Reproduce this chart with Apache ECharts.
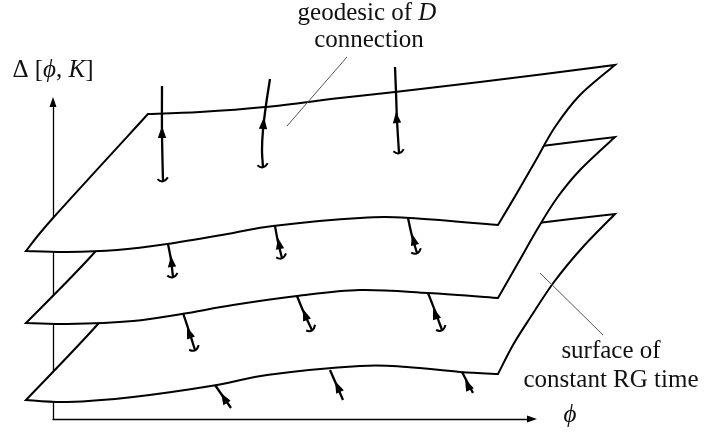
<!DOCTYPE html>
<html>
<head>
<meta charset="utf-8">
<script src="https://cdn.jsdelivr.net/npm/echarts@6/dist/echarts.min.js"></script>
<style>
  html, body { margin: 0; padding: 0; background: #fff; }
  #chart { width: 705px; height: 437px; }
</style>
</head>
<body>
<div id="chart"></div>
<script>
  // everything is in picture units: x to the right, y downwards
  // each sheet = [back edge, right edge, front edge, left edge]
  const lowSheet = [
    [[148, 263], [265, 256], [340, 247], [395, 241], [480, 231], [538, 223], [615, 214]],
    [[615, 214], [582, 248], [554, 282], [530, 318], [513, 345], [498, 374]],
    [[498, 374], [460, 372], [407, 367], [360, 366], [267, 375], [217, 385], [133, 397], [67, 402], [26, 400]],
    [[26, 400], [98, 324], [148, 263]],
  ];
  const midSheet = [
    [[148, 186], [265, 179], [340, 170], [395, 164], [480, 154], [542, 146], [615, 137]],
    [[615, 137], [580, 170], [557, 198], [538, 228], [518, 263], [498, 298]],
    [[498, 298], [428, 293], [360, 290], [297, 296], [233, 305], [182, 314], [133, 321], [67, 324], [26, 323]],
    [[26, 323], [94, 253], [148, 186]],
  ];
  const topSheet = [
    [[148, 114], [200, 112], [265, 107], [340, 98], [395, 92], [480, 82], [615, 65]],
    [[615, 65], [580, 95], [555, 127], [536, 160], [517, 193], [498, 225]],
    [[498, 225], [410, 218], [360, 218], [273, 226], [233, 233], [167, 244], [117, 250], [67, 252], [26, 251]],
    [[26, 251], [53, 218], [148, 114]],
  ];
  const sheets = [lowSheet, midSheet, topSheet];

  // little geodesic marks: stem, arrow tip, arrow base, foot (1) or not (0)
  const stems = [
    [[162, 86], [162, 134], [163, 181]],
    [[270, 79], [266, 105], [263, 130], [262, 150], [263, 167]],
    [[395, 67], [396, 92], [397, 120], [399, 153]],
    [[168, 244], [171, 260], [173, 277]],
    [[275, 226], [278, 242], [282, 258]],
    [[408, 218], [412, 236], [417, 253]],
    [[183, 313], [189, 331], [195, 350]],
    [[297, 296], [304, 313], [312, 330]],
    [[428, 293], [435, 311], [442, 330]],
    [[215, 385], [231, 408]],
    [[330, 370], [343, 400]],
    [[462, 372], [473, 393]],
  ];
  const tips = [
    [162, 126], [264, 117], [396, 112],
    [171, 256], [278, 238], [412, 234],
    [187, 327], [303, 309], [433, 307],
    [221, 393], [335, 381], [465, 379],
  ];
  const bases = [
    [162, 138], [263, 129], [397, 123],
    [172, 267], [280, 249], [415, 245],
    [191, 338], [307, 320], [437, 319],
    [227, 403], [340, 392], [470, 390],
  ];
  const feet = [1, 1, 1, 1, 1, 1, 1, 1, 1, 0, 0, 0];

  const leaders = [
    [[347, 57], [287, 126]],
    [[540, 273], [603, 335]],
  ];

  const serif = "'Liberation Serif', 'DejaVu Serif', serif";

  // catmull-rom through the points, as svg path commands
  function curveThrough(pts) {
    let d = "";
    for (let i = 0; i < pts.length - 1; i++) {
      const p0 = pts[i - 1] || pts[i];
      const p1 = pts[i];
      const p2 = pts[i + 1];
      const p3 = pts[i + 2] || p2;
      const c1 = [p1[0] + (p2[0] - p0[0]) / 6, p1[1] + (p2[1] - p0[1]) / 6];
      const c2 = [p2[0] - (p3[0] - p1[0]) / 6, p2[1] - (p3[1] - p1[1]) / 6];
      d += ` C${c1[0]} ${c1[1]} ${c2[0]} ${c2[1]} ${p2[0]} ${p2[1]}`;
    }
    return d;
  }

  const renderSheet = (params, api) => {
    const sheet = sheets[params.dataIndex];
    let d = "";
    sheet.forEach((edge, k) => {
      const pts = edge.map((p) => api.coord(p));
      if (k === 0) d += `M${pts[0][0]} ${pts[0][1]}`;
      d += curveThrough(pts);
    });
    d += " Z";
    return {
      type: "path",
      z2: params.dataIndex,
      shape: { pathData: d },
      style: { fill: "#fff", stroke: "#000", lineWidth: 2, lineJoin: "miter" },
    };
  };

  const renderMark = (params, api) => {
    const i = params.dataIndex;
    const pts = stems[i].map((p) => api.coord(p));
    const tip = api.coord(tips[i]);
    const base = api.coord(bases[i]);
    const children = [
      {
        type: "path",
        shape: { pathData: `M${pts[0][0]} ${pts[0][1]}` + curveThrough(pts) },
        style: { fill: "none", stroke: "#000", lineWidth: 2.3 },
      },
    ];
    // arrow head
    let ux = tip[0] - base[0];
    let uy = tip[1] - base[1];
    const len = Math.hypot(ux, uy);
    ux /= len;
    uy /= len;
    const w = 4.2;
    children.push({
      type: "polygon",
      shape: {
        points: [
          [tip[0], tip[1]],
          [base[0] - uy * w, base[1] + ux * w],
          [base[0] + uy * w, base[1] - ux * w],
        ],
      },
      style: { fill: "#000" },
    });
    // small foot at the lower end
    if (feet[i]) {
      const end = pts[pts.length - 1];
      const prev = pts[pts.length - 2];
      let dx = end[0] - prev[0];
      let dy = end[1] - prev[1];
      const l = Math.hypot(dx, dy);
      dx /= l;
      dy /= l;
      const nx = dy;
      const ny = -dx;
      const left = [end[0] - nx * 5.5 - dx * 2, end[1] - ny * 5.5 - dy * 2];
      const right = [end[0] + nx * 5 - dx * 3.5, end[1] + ny * 5 - dy * 3.5];
      const ctrl = [end[0] + dx * 3.5, end[1] + dy * 3.5];
      children.push({
        type: "path",
        shape: { pathData: `M${left[0]} ${left[1]} Q${ctrl[0]} ${ctrl[1]} ${right[0]} ${right[1]}` },
        style: { fill: "none", stroke: "#000", lineWidth: 2 },
      });
    }
    return { type: "group", children };
  };

  const renderLeader = (params, api) => {
    const [a, b] = leaders[params.dataIndex].map((p) => api.coord(p));
    return {
      type: "line",
      shape: { x1: a[0], y1: a[1], x2: b[0], y2: b[1] },
      style: { stroke: "#555", lineWidth: 1 },
    };
  };

  const label = (text, x, y, rich) => ({
    type: "text",
    x,
    y,
    style: {
      text,
      font: `25px ${serif}`,
      fill: "#111",
      textAlign: "center",
      textVerticalAlign: "middle",
      rich,
    },
  });
  const it = { fontSize: 25, fontFamily: serif, fontStyle: "italic", fill: "#111" };

  const myChart = echarts.init(document.getElementById("chart"));
  const option = {
    animation: false,
    grid: { left: 53, right: 173, top: 102, bottom: 18, outerBoundsMode: "none" },
    xAxis: {
      type: "value",
      min: 53,
      max: 532,
      axisLine: {
        show: true,
        onZero: false,
        symbol: ["none", "triangle"],
        symbolSize: [7, 10],
        lineStyle: { color: "#000", width: 1.3 },
      },
      axisTick: { show: false },
      axisLabel: { show: false },
      splitLine: { show: false },
    },
    yAxis: {
      type: "value",
      min: 102,
      max: 419,
      inverse: true,
      axisLine: {
        show: true,
        onZero: false,
        symbol: ["none", "triangle"],
        symbolSize: [7, 10],
        lineStyle: { color: "#000", width: 1.3 },
      },
      axisTick: { show: false },
      axisLabel: { show: false },
      splitLine: { show: false },
    },
    series: [
      {
        type: "custom",
        clip: false,
        silent: true,
        data: sheets.map((s, i) => [i]),
        renderItem: renderSheet,
        z: 3,
      },
      {
        type: "custom",
        clip: false,
        silent: true,
        data: stems.map((s, i) => [i]),
        renderItem: renderMark,
        z: 4,
      },
      {
        type: "custom",
        clip: false,
        silent: true,
        data: leaders.map((s, i) => [i]),
        renderItem: renderLeader,
        z: 5,
      },
    ],
    graphic: [
      label("geodesic of {i|D}", 367, 13, { i: it }),
      label("connection", 369, 40),
      label("Δ [{i|ϕ}, {i|K}]", 53, 70, { i: it }),
      label("surface of", 611, 351),
      label("constant RG time", 611, 380),
      label("{i|ϕ}", 570, 415, { i: it }),
    ],
  };
  myChart.setOption(option);
</script>
</body>
</html>
